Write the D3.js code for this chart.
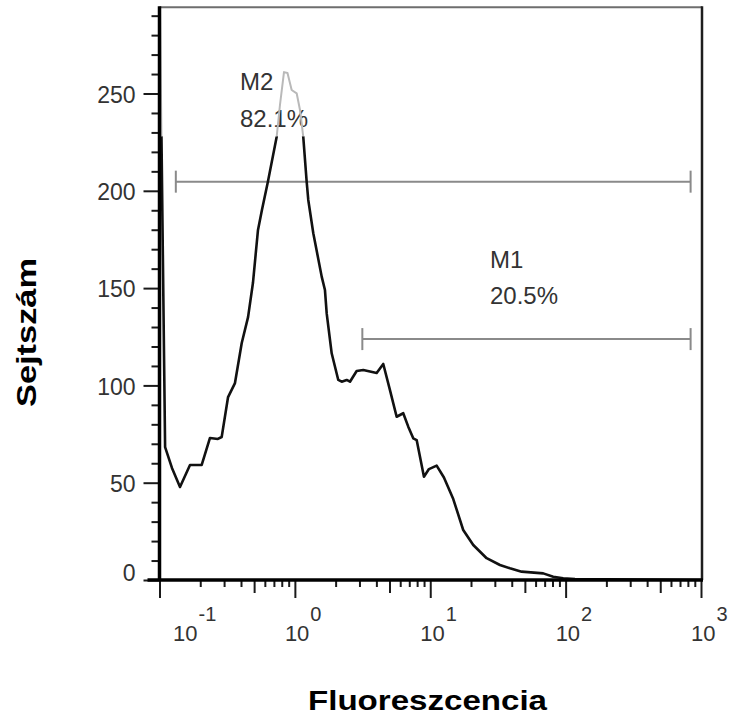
<!DOCTYPE html>
<html>
<head>
<meta charset="utf-8">
<script src="https://cdn.jsdelivr.net/npm/d3@7"></script>
<style>
  html, body { margin: 0; padding: 0; background: #fff; }
  svg { display: block; }
  text { font-family: "Liberation Sans", Arial, sans-serif; }
</style>
</head>
<body>
<svg id="chart" width="729" height="719"></svg>
<script>
// ---- data ----
const fluorescence = [0.1008, 0.110, 0.1236, 0.1417, 0.168, 0.205, 0.236, 0.270, 0.288, 0.321, 0.361, 0.405, 0.451,
  0.490, 0.534, 0.571, 0.632, 0.734, 0.776, 0.831, 0.882, 0.947, 1.031, 1.091, 1.153, 1.222, 1.256, 1.368, 1.578,
  1.668, 1.718, 1.870, 2.092, 2.216, 2.413, 2.553, 2.860, 3.200, 4.019, 4.497, 5.040, 5.647, 6.318, 6.879, 7.488,
  7.937, 8.985, 9.781, 11.15, 12.62, 14.79, 17.52, 20.78, 26.09, 32.72, 38.79, 47.32, 68.33, 80.97, 96.0, 117.2, 1000];
const cellCount = [294, 68.3, 57.6, 47.8, 59.1, 59.1, 73.0, 72.5, 73.5, 94.0, 101.2, 121.8, 135.1,
  152.6, 179.9, 190.1, 204.7, 227.8, 244.1, 261.0, 260.5, 251.8, 250.1, 241.5, 227.8, 204.7, 195.3, 178.2, 155.9,
  149.0, 137.0, 116.5, 102.8, 101.9, 102.8, 101.9, 107.4, 107.9, 106.4, 111.0, 97.6, 83.9, 85.7, 78.8, 72.8,
  71.9, 53.1, 57.0, 58.8, 52.7, 41.6, 25.7, 18.0, 11.2, 7.7, 6.0, 4.3, 3.4, 1.7, 0.9, 0.5, 0];
const yTicks = [0, 50, 100, 150, 200, 250];
const xDecades = [-1, 0, 1, 2, 3];
const markerNames = ["M2", "M1"];
const markerPercents = ["82.1%", "20.5%"];
const markerStart = [0.132, 3.15];
const markerEnd = [838, 838];
const markerLevel = [204.7, 123.8];
const xTitle = "Fluoreszcencia";
const yTitle = "Sejtszám";

// ---- layout ----
const svg = d3.select("#chart");
const x = d3.scaleLog().domain([0.1, 1000]).range([159.5, 701]);
const y = d3.scaleLinear().domain([0, 294.3]).range([580, 7.3]);
const [x0, x1] = x.range();
const [yb, yt] = y.range();

// frame: top and right
svg.append("line").attr("x1", x0).attr("x2", x1 + 1).attr("y1", yt).attr("y2", yt)
  .attr("stroke", "#6e6e6e").attr("stroke-width", 2);
svg.append("line").attr("x1", x1 + 1).attr("x2", x1 + 1).attr("y1", yt - 1).attr("y2", yb)
  .attr("stroke", "#1e1e1e").attr("stroke-width", 2.5);

// marker bars
const markers = markerNames.map((n, i) => ({ n, p: markerPercents[i], s: markerStart[i], e: markerEnd[i], v: markerLevel[i] }));
const mg = svg.append("g").attr("stroke", "#8a8a8a").attr("stroke-width", 2);
markers.forEach(m => {
  mg.append("line").attr("x1", x(m.s)).attr("x2", x(m.e)).attr("y1", y(m.v)).attr("y2", y(m.v));
  mg.append("line").attr("x1", x(m.s)).attr("x2", x(m.s)).attr("y1", y(m.v) - 11).attr("y2", y(m.v) + 11);
  mg.append("line").attr("x1", x(m.e)).attr("x2", x(m.e)).attr("y1", y(m.v) - 11).attr("y2", y(m.v) + 11);
});
// marker labels
const labelPos = [{ lx: 240, ly1: 90, ly2: 126.5 }, { lx: 490, ly1: 268, ly2: 304 }];
markers.forEach((m, i) => {
  svg.append("text").attr("x", labelPos[i].lx).attr("y", labelPos[i].ly1).attr("font-size", 24).attr("fill", "#333").text(m.n);
  svg.append("text").attr("x", labelPos[i].lx).attr("y", labelPos[i].ly2).attr("font-size", 24).attr("fill", "#333").text(m.p);
});

// histogram curve
const pts = fluorescence.map((f, i) => [f, cellCount[i]]);
const line = d3.line().x(d => x(d[0])).y(d => y(d[1]));
const defs = svg.append("defs");
const cut = y(228);
defs.append("clipPath").attr("id", "lower").append("rect").attr("x", 0).attr("y", cut).attr("width", 729).attr("height", 719);
defs.append("clipPath").attr("id", "upper").append("rect").attr("x", 0).attr("y", 0).attr("width", 729).attr("height", cut);
defs.append("clipPath").attr("id", "plot").append("rect").attr("x", x0).attr("y", yt).attr("width", x1 - x0).attr("height", yb - yt);
const cg = svg.append("g").attr("clip-path", "url(#plot)");
cg.append("path").datum(pts).attr("d", line).attr("fill", "none").attr("stroke", "#111")
  .attr("stroke-width", 2.6).attr("stroke-linejoin", "round").attr("clip-path", "url(#lower)");
cg.append("path").datum(pts).attr("d", line).attr("fill", "none").attr("stroke", "#b9b9b9")
  .attr("stroke-width", 2).attr("stroke-linejoin", "round").attr("clip-path", "url(#upper)");

// y axis ticks
const yMinor = d3.range(0, 291, 10).filter(v => !yTicks.includes(v));
const yMinorAxis = d3.axisLeft(y).tickValues(yMinor).tickSize(8).tickFormat("");
const gyMin = svg.append("g").attr("transform", `translate(${x0},0)`).call(yMinorAxis);
const yMajorAxis = d3.axisLeft(y).tickValues(yTicks).tickSize(16).tickPadding(8).tickFormat(d3.format("d"));
const gyMaj = svg.append("g").attr("transform", `translate(${x0},0)`).call(yMajorAxis);
[gyMin, gyMaj].forEach(g => {
  g.select(".domain").remove();
  g.selectAll(".tick line").attr("stroke", "#1a1a1a").attr("stroke-width", 2);
});
gyMaj.selectAll(".tick text").attr("font-size", 23).attr("fill", "#333")
  .attr("font-family", "'Liberation Sans', Arial, sans-serif")
  .attr("x", -24).attr("dy", d => d === 0 ? "-0.0em" : "0.38em");

// x axis ticks
const minorVals = [], midVals = [];
xDecades.slice(0, -1).forEach(e => {
  for (let k = 2; k <= 9; k++) (k === 5 ? midVals : minorVals).push(k * Math.pow(10, e));
});
const majorVals = xDecades.map(e => Math.pow(10, e));
[[minorVals, 7], [midVals, 13], [majorVals, 18]].forEach(([vals, size]) => {
  const g = svg.append("g").attr("transform", `translate(0,${yb})`)
    .call(d3.axisBottom(x).tickValues(vals).tickSize(size).tickFormat(""));
  g.select(".domain").remove();
  g.selectAll(".tick line").attr("stroke", "#1a1a1a").attr("stroke-width", 2);
});

// axis lines (thick)
svg.append("line").attr("x1", x0).attr("x2", x0).attr("y1", yt - 1).attr("y2", yb)
  .attr("stroke", "#000").attr("stroke-width", 3.5);
svg.append("line").attr("x1", x0 - 12).attr("x2", x1 + 2).attr("y1", yb).attr("y2", yb)
  .attr("stroke", "#000").attr("stroke-width", 3.5);

// x tick labels 10^n
xDecades.forEach((e, i) => {
  const px = x(Math.pow(10, e)) + (i === 0 ? 13.5 : -10);
  const t = svg.append("text").attr("x", px).attr("y", 641).attr("font-size", 22).attr("fill", "#333");
  t.append("tspan").text("10");
  t.append("tspan").attr("dy", -20).attr("dx", 1).attr("font-size", 20).text(String(e));
});

// axis titles
svg.append("text").attr("x", 427.5).attr("y", 710).attr("text-anchor", "middle")
  .attr("font-size", 28).attr("font-weight", "bold").attr("fill", "#000")
  .attr("textLength", 239).attr("lengthAdjust", "spacingAndGlyphs").text(xTitle);
svg.append("text").attr("transform", "translate(36,332.5) rotate(-90)").attr("text-anchor", "middle")
  .attr("font-size", 27).attr("font-weight", "bold").attr("fill", "#000")
  .attr("textLength", 149).attr("lengthAdjust", "spacingAndGlyphs").text(yTitle);
</script>
</body>
</html>
